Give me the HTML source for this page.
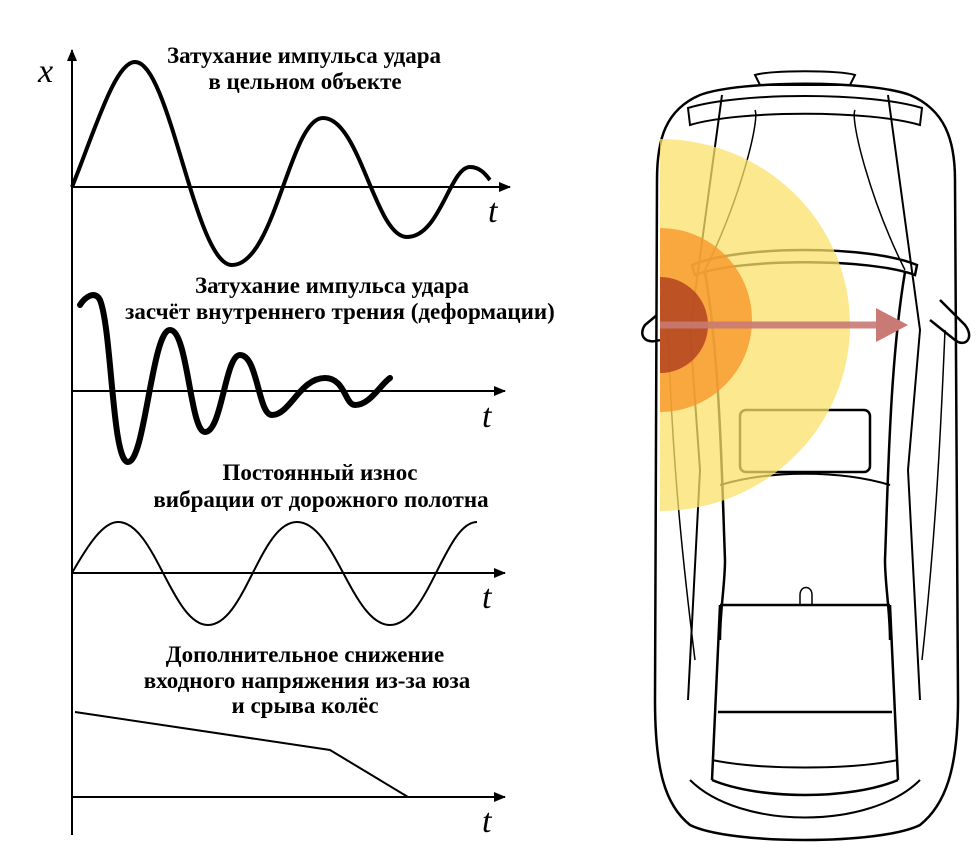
<!DOCTYPE html>
<html><head><meta charset="utf-8"><style>
html,body{margin:0;padding:0;background:#fff;}
svg{display:block}
.t{font-family:"Liberation Serif","DejaVu Serif",serif;font-weight:bold;font-size:23px;text-anchor:middle;fill:#000}
.i{font-family:"Liberation Serif",serif;font-style:italic;font-size:34px;fill:#000}
</style></head><body>
<svg width="976" height="868" viewBox="0 0 976 868" xmlns="http://www.w3.org/2000/svg">
<defs>
<marker id="ah" markerWidth="12" markerHeight="10" refX="11" refY="5" orient="auto" markerUnits="userSpaceOnUse"><path d="M0,0 L12,5 L0,10 Z" fill="#000"/></marker>
<clipPath id="cl"><rect x="660" y="0" width="320" height="868"/></clipPath>
</defs>
<line x1="72" y1="835" x2="72" y2="50" stroke="#000" stroke-width="2" marker-end="url(#ah)"/>
<line x1="72" y1="187" x2="510" y2="187" stroke="#000" stroke-width="2" marker-end="url(#ah)"/>
<line x1="72" y1="391" x2="505" y2="391" stroke="#000" stroke-width="2" marker-end="url(#ah)"/>
<line x1="72" y1="573" x2="505" y2="573" stroke="#000" stroke-width="2" marker-end="url(#ah)"/>
<line x1="72" y1="797" x2="505" y2="797" stroke="#000" stroke-width="2" marker-end="url(#ah)"/>
<text class="i" x="38" y="82">x</text>
<text class="i" x="488" y="222">t</text>
<text class="i" x="482" y="427">t</text>
<text class="i" x="482" y="608">t</text>
<text class="i" x="482" y="832">t</text>
<text class="t" x="304" y="63">Затухание импульса удара</text>
<text class="t" x="305" y="89">в цельном объекте</text>
<text class="t" x="332" y="293">Затухание импульса удара</text>
<text class="t" x="340" y="319">засчёт внутреннего трения (деформации)</text>
<text class="t" x="320" y="480">Постоянный износ</text>
<text class="t" x="321" y="507">вибрации от дорожного полотна</text>
<text class="t" x="305" y="662">Дополнительное снижение</text>
<text class="t" x="307" y="688">входного напряжения из-за юза</text>
<text class="t" x="305" y="713">и срыва колёс</text>
<path d="M72,187 C95,130 115,62 135,62 C170,62 195,265 232,265 C275,265 290,118 323,118 C360,118 375,237 407,237 C440,237 450,167 470,167 C482,167 488,178 490,180" fill="none" stroke="#000" stroke-width="4"/>
<path d="M80,305 C85,297 95,290 100,300 C112,330 112,462 128,462 C145,462 152,330 170,330 C188,330 190,432 205,432 C222,432 225,355 240,355 C258,355 258,415 272,415 C290,415 300,378 325,378 C345,378 345,405 355,405 C370,405 380,385 390,378" fill="none" stroke="#000" stroke-width="6" stroke-linecap="round"/>
<path d="M72,573 C88,545 103,522 118,522 C155,522 172,625 208,625 C245,625 260,522 297,522 C335,522 352,625 390,625 C428,625 445,522 477,522" fill="none" stroke="#000" stroke-width="2"/>
<path d="M75,712 L330,750 L408,797" fill="none" stroke="#000" stroke-width="2"/>
<g fill="none" stroke="#000" stroke-width="2.5">
<path d="M700,95 C740,80 870,80 910,95 C945,110 955,140 955,180 L958,700 C958,770 945,805 920,825 C880,845 730,845 690,825 C665,805 655,770 655,700 L657,180 C657,140 665,110 700,95 Z"/>
<path d="M688,108 C740,92 870,92 922,108 L920,125 C870,110 740,110 690,125 Z" stroke-width="2"/>
<path d="M755,75 C770,70 840,70 855,75 L850,85 L760,85 Z" stroke-width="2"/>
<path d="M722,95 L690,330 L700,470 L688,700" stroke-width="2"/>
<path d="M888,95 L920,330 L908,470 L920,700" stroke-width="2"/>
<path d="M692,265 C740,245 870,245 917,265 L915,275 C870,258 740,258 695,275 Z"/>
<path d="M705,272 C720,360 722,480 725,560 C725,585 720,610 720,640 M905,272 C890,360 888,480 885,560 C885,585 890,610 890,640"/>
<path d="M705,270 C740,200 760,120 755,110 M905,270 C870,200 850,120 855,110" stroke-width="1.5"/>
<path d="M720,605 L890,605 M718,712 L892,712 M720,605 L712,780 M890,605 L898,780 M712,780 C760,800 850,800 898,780" stroke-width="2.5"/>
<path d="M712,760 C760,770 850,770 898,760 M690,780 C740,830 870,830 920,780" stroke-width="2"/>
<path d="M720,485 C770,470 840,470 890,485" stroke-width="2"/>
<rect x="740" y="410" width="130" height="62" rx="6"/>
<path d="M800,605 L800,595 C800,585 812,585 812,595 L812,605" stroke-width="1.5"/>
<path d="M657,315 L645,325 C638,335 645,345 660,340" stroke-width="2.5"/>
<path d="M940,300 L965,325 C975,338 965,348 955,340 L930,320" stroke-width="2.5"/>
<path d="M668,330 C672,450 680,540 695,660 M945,330 C940,450 935,540 922,660" stroke-width="1.5"/>
</g>
<g clip-path="url(#cl)">
<ellipse cx="660" cy="325" rx="190" ry="186" fill="#fbe06a" opacity="0.75"/>
<circle cx="660" cy="320" r="92" fill="#f7962a" opacity="0.8"/>
<circle cx="660" cy="325" r="48" fill="#a8351e" opacity="0.75"/>
</g>
<line x1="660" y1="325" x2="878" y2="325" stroke="#c97a74" stroke-width="7" opacity="0.9"/>
<path d="M876,308 L908,325 L876,342 Z" fill="#c97a74"/>
</svg>
</body></html>
